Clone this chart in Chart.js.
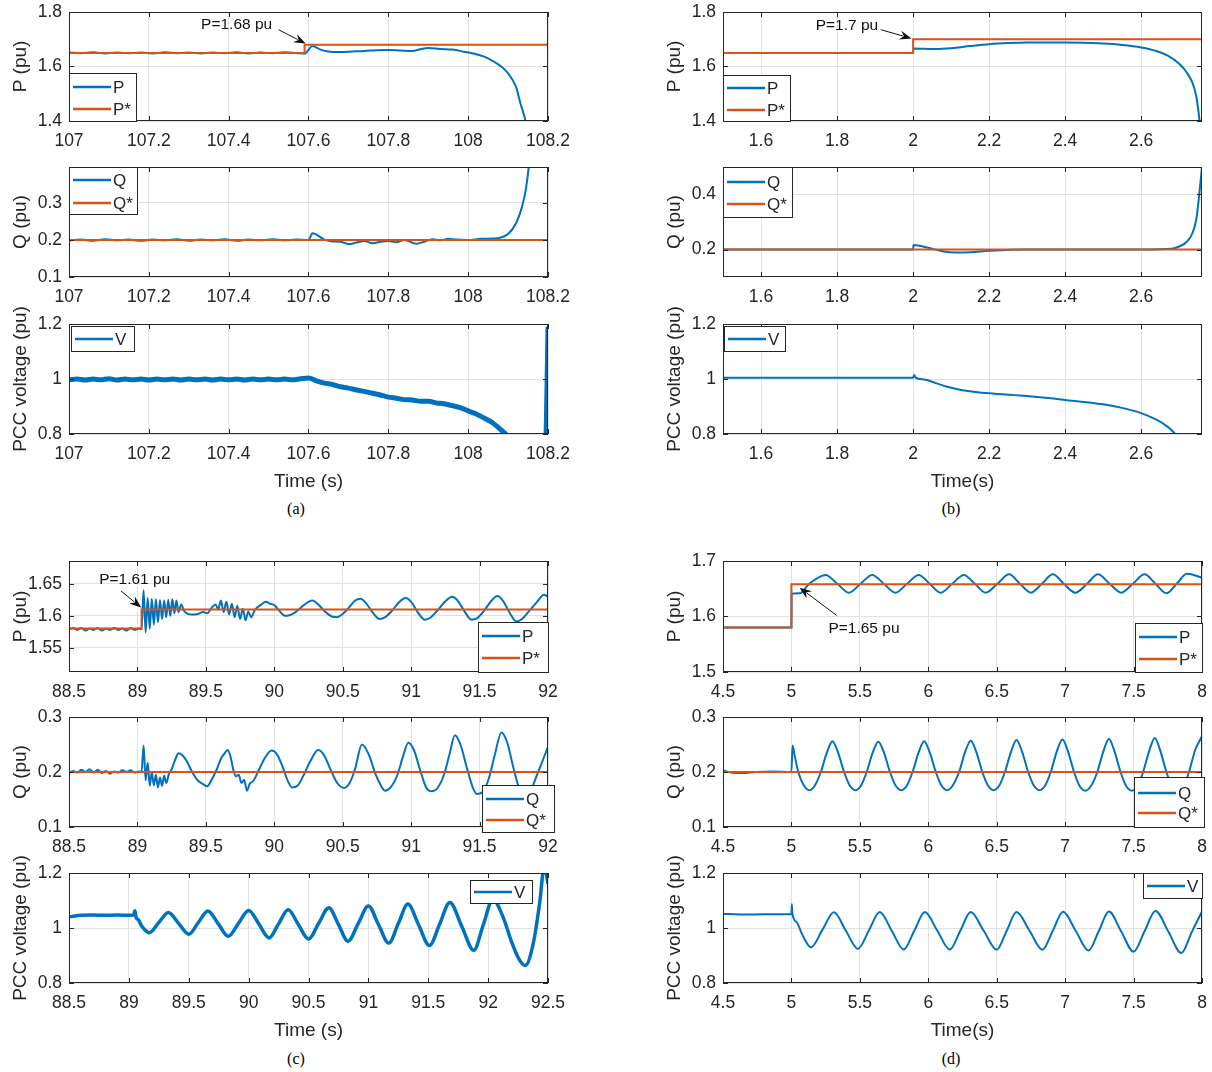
<!DOCTYPE html>
<html>
<head>
<meta charset="utf-8">
<script src="https://cdn.jsdelivr.net/npm/chart.js@4.4.1/dist/chart.umd.min.js"></script>
<style>
  body { margin: 0; background: #fff; width: 1212px; height: 1072px; position: relative; overflow: hidden; }
  canvas { position: absolute; }
  .cap { position: absolute; font-family: "Liberation Serif", "Times New Roman", serif; font-size: 16px; color: #000; transform: translate(-50%, -50%); }
</style>
</head>
<body>
<div class="cap" style="left:296px;top:509px">(a)</div>
<div class="cap" style="left:951px;top:509px">(b)</div>
<div class="cap" style="left:296px;top:1059px">(c)</div>
<div class="cap" style="left:951px;top:1059px">(d)</div>
<script>
// ---- (a) case 1, step at 107.59 s ----
const aTicks = [107, 107.2, 107.4, 107.6, 107.8, 108, 108.2];
const aP = [[107.00,1.651],[107.03,1.649],[107.06,1.652],[107.09,1.648],[107.12,1.651],[107.15,1.649],[107.18,1.651],[107.21,1.648],
  [107.24,1.652],[107.27,1.649],[107.30,1.651],[107.33,1.648],[107.36,1.651],[107.39,1.649],[107.42,1.652],[107.45,1.648],
  [107.48,1.651],[107.51,1.649],[107.54,1.652],[107.57,1.649],[107.59,1.647],[107.61,1.675],[107.63,1.662],[107.65,1.655],
  [107.68,1.653],[107.71,1.655],[107.74,1.657],[107.77,1.660],[107.80,1.661],[107.83,1.659],[107.86,1.657],[107.88,1.663],
  [107.90,1.668],[107.93,1.664],[107.96,1.662],[107.99,1.654],[108.02,1.645],[108.04,1.636],[108.06,1.622],[108.08,1.603],
  [108.10,1.575],[108.12,1.525],[108.13,1.47],[108.143,1.405],[108.155,1.33]];
const aPref = [[107,1.65],[107.59,1.65],[107.5901,1.68],[108.2,1.68]];
const aQ = [[107.00,0.199],[107.03,0.201],[107.06,0.198],[107.09,0.202],[107.12,0.199],[107.15,0.201],[107.18,0.198],[107.21,0.201],
  [107.24,0.199],[107.27,0.202],[107.30,0.198],[107.33,0.201],[107.36,0.199],[107.39,0.202],[107.42,0.198],[107.45,0.201],
  [107.48,0.199],[107.51,0.202],[107.54,0.199],[107.57,0.201],[107.60,0.200],[107.61,0.218],[107.64,0.201],[107.66,0.196],
  [107.68,0.195],[107.70,0.189],[107.72,0.193],[107.74,0.197],[107.76,0.191],[107.78,0.195],[107.80,0.197],[107.82,0.194],
  [107.84,0.200],[107.87,0.190],[107.89,0.195],[107.91,0.202],[107.93,0.199],[107.95,0.203],[107.97,0.201],[108.00,0.200],
  [108.03,0.203],[108.06,0.204],[108.08,0.206],[108.10,0.216],[108.12,0.245],[108.135,0.29],[108.145,0.34],[108.152,0.40],[108.156,0.45]];
const aQref = [[107,0.2],[108.2,0.2]];
const aV = [[107.00,0.997],[107.02,1.000],[107.04,0.996],[107.06,1.000],[107.08,0.997],[107.10,1.001],[107.12,0.996],[107.14,1.000],
  [107.16,0.997],[107.18,1.000],[107.20,0.996],[107.22,1.000],[107.24,0.997],[107.26,1.000],[107.28,0.996],[107.30,1.000],
  [107.32,0.997],[107.34,1.000],[107.36,0.996],[107.38,1.000],[107.40,0.997],[107.42,1.000],[107.44,0.996],[107.46,1.000],
  [107.48,0.997],[107.50,1.000],[107.52,0.997],[107.54,1.000],[107.56,0.997],[107.58,1.001],[107.60,1.004],[107.62,0.993],
  [107.64,0.985],[107.66,0.980],[107.68,0.972],[107.70,0.967],[107.72,0.960],[107.74,0.955],[107.76,0.948],[107.78,0.942],
  [107.80,0.934],[107.82,0.930],[107.84,0.925],[107.86,0.924],[107.88,0.919],[107.90,0.919],[107.92,0.913],[107.94,0.910],
  [107.96,0.903],[107.98,0.896],[108.00,0.884],[108.02,0.873],[108.04,0.858],[108.06,0.842],[108.08,0.818],[108.10,0.79],
  [108.13,0.72],[108.16,0.62],[108.19,0.55],[108.196,0.85],[108.2,1.19]];

// ---- (b) case 2, step at 2 s ----
const bTicks = [1.6, 1.8, 2, 2.2, 2.4, 2.6];
const bP = [[1.50,1.65],[1.75,1.65],[2.00,1.65],[2.001,1.666],[2.03,1.665],[2.06,1.664],[2.10,1.667],[2.15,1.675],[2.20,1.682],
  [2.25,1.686],[2.30,1.688],[2.40,1.688],[2.50,1.684],[2.55,1.679],[2.60,1.670],[2.64,1.657],[2.67,1.640],[2.70,1.610],
  [2.72,1.578],[2.735,1.54],[2.745,1.49],[2.752,1.42],[2.76,1.33]];
const bPref = [[1.5,1.65],[2.0,1.65],[2.0001,1.7],[2.76,1.7]];
const bQ = [[1.50,0.2],[1.75,0.2],[2.00,0.2],[2.001,0.216],[2.02,0.213],[2.05,0.203],[2.08,0.193],[2.11,0.189],[2.15,0.190],
  [2.20,0.195],[2.30,0.200],[2.45,0.200],[2.60,0.200],[2.68,0.203],[2.70,0.211],[2.72,0.228],[2.735,0.26],[2.745,0.31],
  [2.752,0.39],[2.76,0.5]];
const bQref = [[1.5,0.2],[2.76,0.2]];
const bV = [[1.50,1.005],[1.75,1.005],[2.00,1.005],[2.003,1.015],[2.006,1.006],[2.03,0.998],[2.06,0.985],[2.09,0.972],[2.12,0.962],
  [2.16,0.954],[2.20,0.948],[2.30,0.938],[2.40,0.924],[2.50,0.908],[2.55,0.895],[2.60,0.876],[2.64,0.852],[2.67,0.826],
  [2.69,0.800],[2.70,0.785]];

// ---- (c) case 3, step at 89.03 s ----
const cTicks = [88.5, 89, 89.5, 90, 90.5, 91, 91.5, 92];
const cTicksV = [88.5, 89, 89.5, 90, 90.5, 91, 91.5, 92, 92.5];
const cP = [[88.50,1.579],[88.53,1.581],[88.56,1.578],[88.59,1.581],[88.62,1.577],[88.65,1.580],[88.68,1.578],[88.71,1.581],
  [88.74,1.577],[88.77,1.580],[88.80,1.578],[88.83,1.581],[88.86,1.578],[88.89,1.580],[88.92,1.577],[88.95,1.581],[88.98,1.578],
  [89.01,1.580],[89.03,1.579],[89.045,1.640],[89.06,1.574],[89.075,1.628],[89.09,1.580],[89.105,1.627],[89.12,1.586],
  [89.135,1.626],[89.15,1.590],[89.165,1.625],[89.18,1.595],[89.195,1.624],[89.21,1.598],[89.225,1.625],[89.24,1.600],
  [89.255,1.626],[89.27,1.604],[89.285,1.624],[89.30,1.606],[89.32,1.618],[89.34,1.608],[89.37,1.603],[89.40,1.602],
  [89.44,1.603],[89.48,1.606],[89.51,1.604],[89.54,1.612],[89.57,1.618],[89.59,1.610],[89.61,1.624],[89.63,1.606],
  [89.65,1.622],[89.67,1.602],[89.69,1.619],[89.71,1.598],[89.73,1.616],[89.75,1.595],[89.77,1.611],[89.79,1.593],
  [89.81,1.607],[89.83,1.598],[89.86,1.610],[89.90,1.617],[89.94,1.622],[89.97,1.619],[90.00,1.617],[90.04,1.607],
  [90.08,1.600],[90.11,1.601],[90.15,1.605],[90.20,1.614],[90.25,1.622],[90.28,1.624],[90.32,1.618],[90.37,1.607],
  [90.42,1.599],[90.46,1.598],[90.50,1.603],[90.55,1.614],[90.59,1.624],[90.63,1.627],[90.67,1.620],[90.72,1.605],
  [90.77,1.595],[90.81,1.598],[90.86,1.608],[90.91,1.621],[90.96,1.628],[91.00,1.622],[91.05,1.605],[91.10,1.594],
  [91.14,1.597],[91.19,1.608],[91.25,1.623],[91.30,1.630],[91.34,1.624],[91.39,1.607],[91.44,1.594],[91.48,1.596],
  [91.53,1.607],[91.58,1.622],[91.63,1.631],[91.67,1.624],[91.72,1.605],[91.77,1.591],[91.81,1.595],[91.86,1.607],
  [91.92,1.622],[91.97,1.633],[92.00,1.630]];
const cPref = [[88.5,1.58],[89.03,1.58],[89.0301,1.61],[92,1.61]];
const cQ = [[88.50,0.198],[88.53,0.202],[88.56,0.199],[88.59,0.204],[88.62,0.200],[88.65,0.205],[88.68,0.199],[88.71,0.204],
  [88.74,0.198],[88.77,0.202],[88.80,0.197],[88.83,0.201],[88.86,0.199],[88.89,0.203],[88.92,0.200],[88.95,0.203],[88.98,0.199],
  [89.01,0.201],[89.03,0.200],[89.045,0.248],[89.06,0.185],[89.075,0.217],[89.09,0.175],[89.105,0.200],[89.12,0.176],
  [89.135,0.195],[89.15,0.172],[89.165,0.190],[89.18,0.175],[89.195,0.193],[89.21,0.180],[89.23,0.196],[89.25,0.205],
  [89.28,0.225],[89.30,0.234],[89.33,0.230],[89.36,0.220],[89.40,0.200],[89.44,0.185],[89.48,0.178],[89.51,0.174],
  [89.54,0.185],[89.58,0.205],[89.61,0.224],[89.64,0.235],[89.66,0.240],[89.68,0.228],[89.70,0.205],[89.72,0.192],
  [89.74,0.195],[89.76,0.180],[89.78,0.186],[89.80,0.166],[89.82,0.178],[89.85,0.185],[89.89,0.205],[89.93,0.225],
  [89.98,0.239],[90.02,0.232],[90.06,0.210],[90.10,0.183],[90.13,0.172],[90.17,0.175],[90.21,0.192],[90.26,0.218],
  [90.32,0.240],[90.36,0.232],[90.41,0.205],[90.46,0.180],[90.51,0.171],[90.55,0.180],[90.59,0.205],[90.64,0.250],
  [90.69,0.232],[90.74,0.196],[90.78,0.175],[90.81,0.166],[90.85,0.172],[90.90,0.195],[90.94,0.228],[90.98,0.253],
  [91.02,0.240],[91.07,0.200],[91.11,0.172],[91.15,0.165],[91.19,0.170],[91.24,0.195],[91.28,0.232],[91.32,0.267],
  [91.36,0.250],[91.41,0.205],[91.45,0.172],[91.48,0.160],[91.52,0.163],[91.57,0.190],[91.61,0.230],[91.66,0.272],
  [91.70,0.255],[91.75,0.205],[91.79,0.170],[91.83,0.158],[91.87,0.165],[91.92,0.195],[91.96,0.220],[92.00,0.246]];
const cQref = [[88.5,0.2],[92,0.2]];
const cV = [[88.50,1.040],[88.55,1.044],[88.60,1.046],[88.70,1.047],[88.80,1.046],[88.90,1.047],[89.00,1.046],[89.04,1.047],
  [89.05,1.063],[89.062,1.036],[89.08,1.030],[89.10,1.012],[89.13,0.995],[89.17,0.983],[89.25,1.020],[89.33,1.056],
  [89.415,1.017],[89.50,0.977],[89.58,1.020],[89.66,1.062],[89.745,1.016],[89.83,0.970],[89.915,1.017],[90.00,1.064],
  [90.085,1.015],[90.17,0.964],[90.25,1.015],[90.33,1.066],[90.415,1.013],[90.50,0.960],[90.585,1.017],[90.67,1.074],
  [90.75,1.013],[90.83,0.952],[90.915,1.016],[91.00,1.080],[91.085,1.012],[91.17,0.945],[91.25,1.016],[91.33,1.087],
  [91.42,1.011],[91.51,0.936],[91.595,1.014],[91.68,1.093],[91.78,1.006],[91.88,0.919],[91.96,1.012],[92.04,1.105],
  [92.12,1.045],[92.20,0.945],[92.26,0.885],[92.31,0.864],[92.38,0.950],[92.43,1.090],[92.47,1.225],[92.50,1.160]];

// ---- (d) case 4, step at 5 s ----
const dTicks = [4.5, 5, 5.5, 6, 6.5, 7, 7.5, 8];
const dP = [[4.50,1.580],[4.75,1.580],[5.00,1.580],[5.001,1.641],[5.06,1.642],[5.13,1.659],[5.25,1.675],[5.335,1.659],
  [5.42,1.643],[5.505,1.659],[5.59,1.675],[5.675,1.659],[5.76,1.643],[5.845,1.659],[5.93,1.675],[6.01,1.659],[6.09,1.643],
  [6.175,1.659],[6.26,1.675],[6.34,1.659],[6.42,1.643],[6.505,1.659],[6.59,1.676],[6.67,1.659],[6.75,1.643],[6.83,1.659],
  [6.91,1.676],[6.99,1.659],[7.075,1.643],[7.16,1.659],[7.24,1.676],[7.325,1.659],[7.41,1.643],[7.495,1.659],[7.58,1.676],
  [7.66,1.659],[7.74,1.642],[7.815,1.659],[7.89,1.677],[8.00,1.670]];
const dPref = [[4.5,1.58],[5.0,1.58],[5.0001,1.658],[8,1.658]];
const dQ = [[4.50,0.203],[4.56,0.199],[4.64,0.198],[4.74,0.200],[4.86,0.201],[5.00,0.200],[5.008,0.248],[5.025,0.228],
  [5.05,0.200],[5.09,0.176],[5.13,0.167],[5.17,0.175],
  [5.215,0.200],[5.26,0.236],[5.30,0.256],[5.34,0.236],[5.385,0.200],[5.425,0.176],[5.468,0.167],[5.51,0.176],
  [5.55,0.200],[5.595,0.236],[5.635,0.255],[5.675,0.236],[5.72,0.200],[5.76,0.176],[5.803,0.167],[5.845,0.176],
  [5.885,0.200],[5.93,0.236],[5.97,0.256],[6.01,0.236],[6.055,0.200],[6.095,0.176],[6.138,0.167],[6.18,0.176],
  [6.225,0.200],[6.27,0.237],[6.31,0.257],[6.35,0.237],[6.395,0.200],[6.435,0.176],[6.478,0.167],[6.52,0.176],
  [6.56,0.200],[6.605,0.237],[6.645,0.258],[6.685,0.237],[6.73,0.200],[6.77,0.176],[6.813,0.167],[6.855,0.176],
  [6.895,0.200],[6.94,0.238],[6.98,0.259],[7.02,0.238],[7.065,0.200],[7.105,0.175],[7.148,0.166],[7.19,0.175],
  [7.235,0.200],[7.28,0.238],[7.32,0.260],[7.36,0.238],[7.405,0.200],[7.445,0.175],[7.488,0.166],[7.53,0.175],
  [7.57,0.200],[7.615,0.239],[7.655,0.262],[7.695,0.239],[7.74,0.200],[7.78,0.175],[7.823,0.166],[7.865,0.175],
  [7.905,0.200],[7.95,0.240],[8.00,0.265]];
const dQref = [[4.5,0.2],[8,0.2]];
const dV = [[4.50,1.052],[4.65,1.049],[4.80,1.050],[5.00,1.050],[5.003,1.086],[5.007,1.052],[5.04,1.020],[5.08,0.975],
  [5.143,0.930],[5.227,0.994],[5.310,1.057],[5.398,0.990],[5.486,0.924],[5.566,0.991],[5.645,1.058],[5.733,0.990],[5.820,0.922],
  [5.898,0.990],[5.975,1.058],[6.066,0.990],[6.157,0.922],[6.234,0.990],[6.310,1.058],[6.405,0.990],[6.500,0.921],
  [6.573,0.990],[6.645,1.058],[6.740,0.990],[6.834,0.921],[6.910,0.990],[6.985,1.059],[7.078,0.989],[7.171,0.918],
  [7.246,0.989],[7.320,1.060],[7.410,0.987],[7.500,0.914],[7.580,0.988],[7.660,1.062],[7.755,0.986],[7.849,0.909],
  [7.925,0.985],[8.000,1.060]];

const BLUE = '#0072BD', ORANGE = '#D95319', AXIS = '#262626', GRID = '#e1e1e1';
const FONT = '"Liberation Sans", Arial, Helvetica, sans-serif';
Chart.defaults.font.family = FONT;
Chart.defaults.color = AXIS;

const YW = 69;   // y axis band width
const TOP = 30;  // room above plot for labels
const RIGHT = 40; // room right of plot for the last x label

const fmt = v => String(Math.round(v * 1000) / 1000);

// axes box, inward ticks, legend and arrow note (MATLAB look)
const decor = {
  id: 'decor',
  afterDraw(chart, args, o) {
    const { ctx, chartArea: a, scales: { x, y } } = chart;
    ctx.save();
    ctx.strokeStyle = AXIS;
    ctx.lineWidth = 1;
    ctx.beginPath();
    x.ticks.forEach(t => {
      const px = Math.round(x.getPixelForValue(t.value)) + 0.5;
      ctx.moveTo(px, a.bottom); ctx.lineTo(px, a.bottom - 5);
      ctx.moveTo(px, a.top); ctx.lineTo(px, a.top + 5);
    });
    y.ticks.forEach(t => {
      const py = Math.round(y.getPixelForValue(t.value)) + 0.5;
      ctx.moveTo(a.left, py); ctx.lineTo(a.left + 5, py);
      ctx.moveTo(a.right, py); ctx.lineTo(a.right - 5, py);
    });
    ctx.stroke();
    ctx.strokeRect(a.left + 0.5, a.top + 0.5, a.width - 1, a.height - 1);

    if (o.note) {
      const n = o.note;
      ctx.fillStyle = '#111';
      ctx.font = '15.5px ' + FONT;
      ctx.textAlign = 'center';
      ctx.textBaseline = 'middle';
      ctx.fillText(n.text, x.getPixelForValue(n.at[0]), y.getPixelForValue(n.at[1]));
      const x0 = x.getPixelForValue(n.from[0]), y0 = y.getPixelForValue(n.from[1]);
      const x1 = x.getPixelForValue(n.to[0]), y1 = y.getPixelForValue(n.to[1]);
      const ang = Math.atan2(y1 - y0, x1 - x0);
      ctx.strokeStyle = '#111';
      ctx.beginPath(); ctx.moveTo(x0, y0);
      ctx.lineTo(x1 - 9 * Math.cos(ang), y1 - 9 * Math.sin(ang)); ctx.stroke();
      ctx.beginPath();
      ctx.moveTo(x1, y1);
      ctx.lineTo(x1 - 12 * Math.cos(ang) + 4.5 * Math.sin(ang), y1 - 12 * Math.sin(ang) - 4.5 * Math.cos(ang));
      ctx.lineTo(x1 - 8 * Math.cos(ang), y1 - 8 * Math.sin(ang));
      ctx.lineTo(x1 - 12 * Math.cos(ang) - 4.5 * Math.sin(ang), y1 - 12 * Math.sin(ang) + 4.5 * Math.cos(ang));
      ctx.closePath(); ctx.fill();
    }

    if (o.legend) {
      const L = o.legend;
      const lx = (L.corner[1] === 'l' ? a.left : a.right - L.w) + L.dx;
      const ly = (L.corner[0] === 't' ? a.top : a.bottom - L.h) + L.dy;
      ctx.fillStyle = '#fff';
      ctx.fillRect(lx, ly, L.w, L.h);
      ctx.strokeStyle = AXIS;
      ctx.strokeRect(Math.round(lx) + 0.5, Math.round(ly) + 0.5, L.w, L.h);
      ctx.font = '17px ' + FONT;
      ctx.textAlign = 'left';
      ctx.textBaseline = 'middle';
      chart.data.datasets.forEach((ds, i) => {
        const ry = ly + L.rows[i];
        ctx.strokeStyle = ds.borderColor;
        ctx.lineWidth = 2.5;
        ctx.beginPath(); ctx.moveTo(lx + 4, ry); ctx.lineTo(lx + 42, ry); ctx.stroke();
        ctx.fillStyle = AXIS;
        ctx.fillText(ds.label, lx + 44, ry + 1);
      });
    }
    ctx.restore();
  }
};

function panel(p) {
  const [l, t, r, b] = p.box;
  const H = p.xTitle ? 66 : 34;
  const cw = YW + (r - l) + RIGHT, ch = TOP + (b - t) + H;
  const cv = document.createElement('canvas');
  cv.width = cw; cv.height = ch;
  cv.style.left = (l - YW) + 'px';
  cv.style.top = (t - TOP) + 'px';
  cv.style.width = cw + 'px';
  cv.style.height = ch + 'px';
  document.body.appendChild(cv);

  const tickX = { color: AXIS, font: { size: 17.5 }, autoSkip: false, maxRotation: 0, padding: 10, callback: fmt };
  const tickY = { color: AXIS, font: { size: 17.5 }, autoSkip: false, maxRotation: 0, padding: 7, callback: fmt };
  new Chart(cv, {
    type: 'line',
    data: {
      datasets: p.series.map(s => ({
        label: s.label,
        data: s.data.map(d => ({ x: d[0], y: d[1] })),
        borderColor: s.color,
        borderWidth: s.width || 2,
        pointRadius: 0,
        fill: false,
        cubicInterpolationMode: s.sharp ? 'default' : 'monotone',
        tension: 0,
        order: s.color === ORANGE ? 0 : 1,
        clip: 0
      }))
    },
    options: {
      responsive: false,
      animation: false,
      events: [],
      layout: { padding: { top: TOP, right: RIGHT, left: 0, bottom: 0 } },
      plugins: { legend: { display: false }, tooltip: { enabled: false }, decor: { legend: p.legend, note: p.note } },
      scales: {
        x: {
          type: 'linear', min: p.x[0], max: p.x[1],
          afterBuildTicks: s => { s.ticks = p.xt.map(v => ({ value: v })); },
          afterFit: s => { s.height = H; },
          grid: { color: GRID, drawTicks: false },
          border: { display: false },
          ticks: tickX,
          title: { display: !!p.xTitle, text: p.xTitle, color: AXIS, font: { size: 19 }, padding: { top: 0, bottom: 7 } }
        },
        y: {
          type: 'linear', min: p.y[0], max: p.y[1],
          afterBuildTicks: s => { s.ticks = p.yt.map(v => ({ value: v })); },
          afterFit: s => { s.width = YW; },
          grid: { color: GRID, drawTicks: false },
          border: { display: false },
          ticks: tickY,
          title: { display: true, text: p.yTitle, color: AXIS, font: { size: 19 }, padding: { top: 9, bottom: 0 } }
        }
      }
    },
    plugins: [decor]
  });
}

const P = (data) => ({ label: 'P', data, color: BLUE });
const Pr = (data) => ({ label: 'P*', data, color: ORANGE, sharp: true });
const Q = (data) => ({ label: 'Q', data, color: BLUE });
const Qr = (data) => ({ label: 'Q*', data, color: ORANGE, sharp: true });
const V = (data, w) => ({ label: 'V', data, color: BLUE, width: w });

// (a)
panel({ box: [69, 12, 548, 121], x: [107, 108.2], xt: aTicks, y: [1.4, 1.8], yt: [1.4, 1.6, 1.8], yTitle: 'P (pu)',
  series: [P(aP), Pr(aPref)], legend: { corner: 'bl', dx: 0, dy: 0, w: 67, h: 48, rows: [14, 36] },
  note: { text: 'P=1.68 pu', at: [107.42, 1.755], from: [107.525, 1.735], to: [107.593, 1.684] } });
panel({ box: [69, 167, 548, 277], x: [107, 108.2], xt: aTicks, y: [0.1, 0.397], yt: [0.1, 0.2, 0.3], yTitle: 'Q (pu)',
  series: [Q(aQ), Qr(aQref)], legend: { corner: 'tl', dx: 0, dy: 0, w: 68, h: 47, rows: [13, 36] } });
panel({ box: [69, 324, 548, 434], x: [107, 108.2], xt: aTicks, y: [0.8, 1.2], yt: [0.8, 1, 1.2], yTitle: 'PCC voltage (pu)',
  xTitle: 'Time (s)', series: [V(aV, 5)], legend: { corner: 'tl', dx: 2, dy: 2, w: 63, h: 25, rows: [13] } });

// (b)
panel({ box: [723, 12, 1202, 121], x: [1.5, 2.76], xt: bTicks, y: [1.4, 1.8], yt: [1.4, 1.6, 1.8], yTitle: 'P (pu)',
  series: [P(bP), Pr(bPref)], legend: { corner: 'bl', dx: 0, dy: 0, w: 67, h: 46, rows: [13, 35] },
  note: { text: 'P=1.7 pu', at: [1.826, 1.75], from: [1.915, 1.735], to: [1.996, 1.703] } });
panel({ box: [723, 167, 1202, 277], x: [1.5, 2.76], xt: bTicks, y: [0.1, 0.5], yt: [0.2, 0.4], yTitle: 'Q (pu)',
  series: [Q(bQ), Qr(bQref)], legend: { corner: 'tl', dx: 0, dy: 0, w: 69, h: 50, rows: [15, 37] } });
panel({ box: [723, 324, 1202, 434], x: [1.5, 2.76], xt: bTicks, y: [0.8, 1.2], yt: [0.8, 1, 1.2], yTitle: 'PCC voltage (pu)',
  xTitle: 'Time(s)', series: [V(bV, 2)], legend: { corner: 'tl', dx: 1, dy: 2, w: 61, h: 25, rows: [13] } });

// (c)
panel({ box: [69, 561, 548, 672], x: [88.5, 92], xt: cTicks, y: [1.512, 1.686], yt: [1.55, 1.6, 1.65], yTitle: 'P (pu)',
  series: [P(cP), Pr(cPref)], legend: { corner: 'br', dx: 0, dy: 0, w: 70, h: 50, rows: [14, 36] },
  note: { text: 'P=1.61 pu', at: [88.98, 1.657], from: [88.88, 1.639], to: [89.028, 1.613] } });
panel({ box: [69, 717, 548, 827], x: [88.5, 92], xt: cTicks, y: [0.1, 0.3], yt: [0.1, 0.2, 0.3], yTitle: 'Q (pu)',
  series: [Q(cQ), Qr(cQref)], legend: { corner: 'br', dx: 6, dy: 5, w: 72, h: 47, rows: [14, 35] } });
panel({ box: [69, 873, 548, 983], x: [88.5, 92.5], xt: cTicksV, y: [0.8, 1.2], yt: [0.8, 1, 1.2], yTitle: 'PCC voltage (pu)',
  xTitle: 'Time (s)', series: [V(cV, 3.5)], legend: { corner: 'tr', dx: -16, dy: 7, w: 62, h: 23, rows: [12] } });

// (d)
panel({ box: [723, 561, 1202, 672], x: [4.5, 8], xt: dTicks, y: [1.5, 1.7], yt: [1.5, 1.6, 1.7], yTitle: 'P (pu)',
  series: [P(dP), Pr(dPref)], legend: { corner: 'br', dx: 0, dy: 0, w: 67, h: 49, rows: [14, 36] },
  note: { text: 'P=1.65 pu', at: [5.53, 1.578], from: [5.33, 1.602], to: [5.06, 1.652] } });
panel({ box: [723, 717, 1202, 827], x: [4.5, 8], xt: dTicks, y: [0.1, 0.3], yt: [0.1, 0.2, 0.3], yTitle: 'Q (pu)',
  series: [Q(dQ), Qr(dQref)], legend: { corner: 'br', dx: 2, dy: 0, w: 70, h: 50, rows: [16, 36] } });
panel({ box: [723, 873, 1202, 983], x: [4.5, 8], xt: dTicks, y: [0.8, 1.2], yt: [0.8, 1, 1.2], yTitle: 'PCC voltage (pu)',
  xTitle: 'Time(s)', series: [V(dV, 2)], legend: { corner: 'tr', dx: 0, dy: 0, w: 59, h: 25, rows: [13] } });
</script>
</body>
</html>
